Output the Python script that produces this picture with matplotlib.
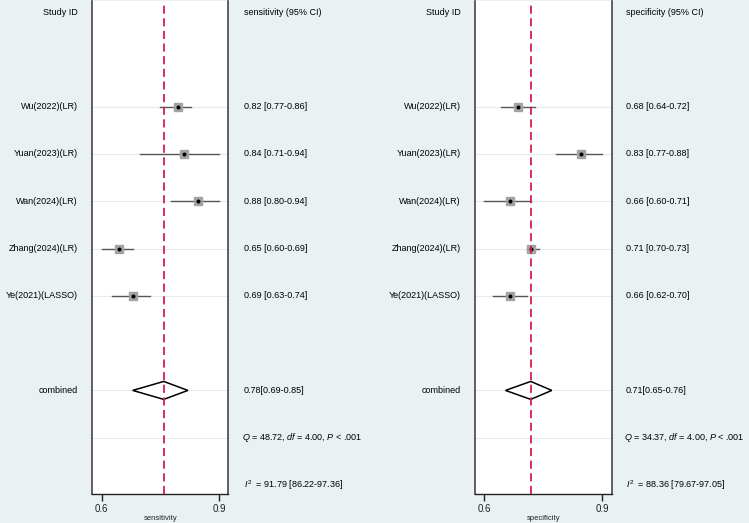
import matplotlib
matplotlib.use("Agg")
import matplotlib.pyplot as plt
from matplotlib.patches import Polygon
from matplotlib.transforms import blended_transform_factory

plt.rcParams["font.family"] = ["Liberation Sans", "DejaVu Sans"]
plt.rcParams["mathtext.fontset"] = "custom"
plt.rcParams["mathtext.rm"] = "Liberation Sans"
plt.rcParams["mathtext.it"] = "Liberation Sans:italic"

# ---------------------------------------------------------------
# DATA
# ---------------------------------------------------------------
studies = ["Wu(2022)(LR)", "Yuan(2023)(LR)", "Wan(2024)(LR)",
           "Zhang(2024)(LR)", "Ye(2021)(LASSO)"]

sens_est = [0.82, 0.84, 0.88, 0.65, 0.69]
sens_lo  = [0.77, 0.71, 0.80, 0.60, 0.63]
sens_hi  = [0.86, 0.94, 0.94, 0.69, 0.74]
sens_pool = (0.78, 0.69, 0.85)
sens_q    = (48.72, 4.00, ".001")
sens_i2   = (91.79, 86.22, 97.36)

spec_est = [0.68, 0.83, 0.66, 0.71, 0.66]
spec_lo  = [0.64, 0.77, 0.60, 0.70, 0.62]
spec_hi  = [0.72, 0.88, 0.71, 0.73, 0.70]
spec_pool = (0.71, 0.65, 0.76)
spec_q    = (34.37, 4.00, ".001")
spec_i2   = (88.36, 79.67, 97.05)

# ---------------------------------------------------------------
# LAYOUT (pixels in a 749 x 523 canvas)
# ---------------------------------------------------------------
W, H = 749, 523
BG = "#eaf1f3"
GRID = "#e2ebee"
RED = "#d41f4c"
FS = 6.5

fig = plt.figure(figsize=(W / 100, H / 100), dpi=100, facecolor=BG)


def panel(x0, x1, label_x, text_x, name, est, lo, hi, pool, q, i2):
    top, bot = 1, 494
    ax = fig.add_axes([x0 / W, (H - bot) / H, (x1 - x0) / W, (bot - top) / H])
    ax.set_facecolor("white")

    rows = list(range(2, 2 + len(est)))
    row_c, row_q, row_i = 8, 9, 10

    # axis range: ticks sit at min / max CI bounds
    xmin, xmax = min(lo), max(hi)
    pad = 0.08 * (xmax - xmin)
    ax.set_xlim(xmin - pad, xmax + pad)
    ax.set_ylim(10.19, -0.233)

    for r in rows + [row_c, row_q]:
        ax.axhline(r, color=GRID, lw=0.8, zorder=0)

    for r, e, l, h in zip(rows, est, lo, hi):
        ax.plot([l, h], [r, r], color="#555555", lw=1.0, zorder=2)
        ax.plot(e, r, marker="s", ms=5.2, color="#a3a3a3", mec="#a3a3a3", zorder=3)
        ax.plot(e, r, marker="o", ms=1.9, color="black", zorder=4)

    pe, pl, ph = pool
    dh = 0.19
    ax.add_patch(Polygon([(pl, row_c), (pe, row_c - dh), (ph, row_c), (pe, row_c + dh)],
                         closed=True, fill=True, facecolor="white",
                         edgecolor="black", lw=1.1, zorder=3))
    ax.axvline(pe, color=RED, lw=1.3, ls=(0, (4.5, 2.5)), zorder=5)

    ax.set_xticks([xmin, xmax])
    ax.set_xticklabels([f"{xmin:.1f}", f"{xmax:.1f}"], fontsize=7, color="#222222")
    ax.set_yticks([])
    ax.tick_params(axis="x", length=5, width=1, pad=2, color="#222222")
    ax.set_xlabel(name, fontsize=5.5, labelpad=1, color="#222222")

    ax.spines["top"].set_visible(False)
    for s in ("left", "right"):
        ax.spines[s].set_color("#444444")
        ax.spines[s].set_linewidth(1.2)
    ax.spines["bottom"].set_color("#222222")
    ax.spines["bottom"].set_linewidth(1.0)

    tr = blended_transform_factory(fig.transFigure, ax.transData)
    lx, tx = label_x / W, text_x / W

    fig.text(lx, 0, "Study ID", transform=tr, ha="right", va="center", fontsize=FS)
    fig.text(tx, 0, f"{name} (95% CI)", transform=tr, ha="left", va="center", fontsize=FS)
    for r, s, e, l, h in zip(rows, studies, est, lo, hi):
        fig.text(lx, r, s, transform=tr, ha="right", va="center", fontsize=FS)
        fig.text(tx, r, f"{e:.2f} [{l:.2f}-{h:.2f}]", transform=tr,
                 ha="left", va="center", fontsize=FS)
    fig.text(lx, row_c, "combined", transform=tr, ha="right", va="center", fontsize=FS)
    fig.text(tx, row_c, f"{pe:.2f}[{pl:.2f}-{ph:.2f}]", transform=tr,
             ha="left", va="center", fontsize=FS)
    fig.text(tx - 2 / W, row_q, f"$Q$ = {q[0]:.2f}, $df$ = {q[1]:.2f}, $P$ < {q[2]}",
             transform=tr, ha="left", va="center", fontsize=FS)
    fig.text(tx, row_i, f"$I^2$  = {i2[0]:.2f} [{i2[1]:.2f}-{i2[2]:.2f}]",
             transform=tr, ha="left", va="center", fontsize=FS)
    return ax


panel(92.3, 228.3, 78, 244, "sensitivity",
      sens_est, sens_lo, sens_hi, sens_pool, sens_q, sens_i2)
panel(475, 611.7, 460.5, 626, "specificity",
      spec_est, spec_lo, spec_hi, spec_pool, spec_q, spec_i2)

fig.savefig("out.png", dpi=100, facecolor=BG)
